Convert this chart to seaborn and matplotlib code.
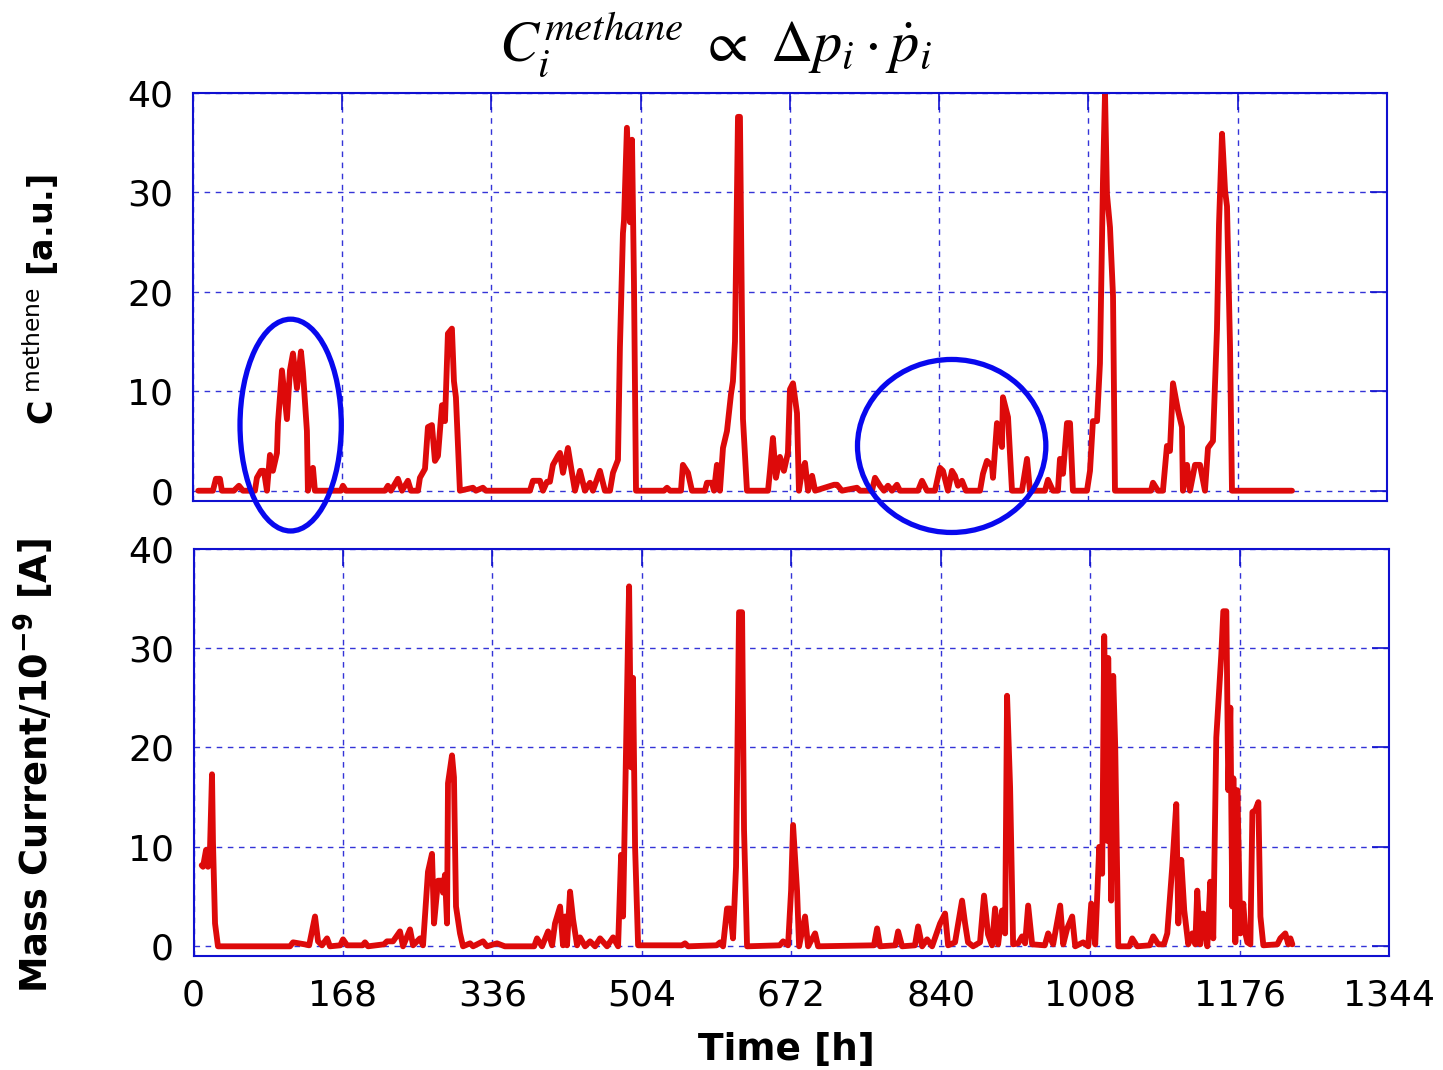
import numpy as np
import pandas as pd
import matplotlib
matplotlib.use("Agg")
import matplotlib.pyplot as plt
import seaborn as sns
from matplotlib.patches import Ellipse

# methane indicator (top panel)
top_hours = [6, 22.5, 25.9, 30.4, 32.6, 46.1, 51.8, 56.3, 69.8, 72,
             76.5, 79.9, 83.3, 86.7, 90, 94.6, 95.7, 100.2, 105.8, 109.2,
             112.6, 117.1, 121.6, 123.8, 128.3, 129.4, 135.1, 137.3, 166.6, 168.8,
             172.2, 216.1, 219.5, 222.9, 230.7, 235.3, 242, 245.4, 253.3, 255.5,
             261.2, 264.5, 269, 272.4, 275.8, 280.3, 283.7, 287, 291.5, 293.8,
             296, 300.5, 315.2, 318.5, 326.4, 329.8, 379.3, 382.7, 390.6, 394,
             398.5, 401.8, 405.2, 410.8, 413.1, 416.5, 422.1, 426.6, 430, 435.6,
             441.2, 446.9, 450.2, 458.1, 463.7, 469.4, 472.8, 478.4, 480.6, 484,
             485.2, 488.5, 491.9, 494.2, 496.4, 498.7, 530.2, 533.6, 537, 549.3,
             551.5, 557.2, 561.7, 576.3, 578.6, 584.2, 586.5, 589.8, 593.2, 596.6,
             601.1, 605.6, 607.8, 610.1, 613.5, 615.7, 619.1, 623.6, 647.3, 649.5,
             652.8, 656.2, 660.7, 665.2, 669.7, 672, 675.4, 679.9, 682.1, 685.5,
             688.9, 692.4, 696.9, 700.3, 721.7, 725, 730.5, 747.4, 750.8, 764.3,
             767.7, 773.3, 777.8, 782.3, 786.8, 792.4, 795.8, 816.1, 820.6, 826.2,
             835.2, 840.8, 844.2, 849.8, 854.3, 857.7, 861.1, 865.6, 870.1, 885.9,
             889.2, 893.7, 899.4, 900.5, 905, 910.6, 911.7, 917.4, 921.9, 933.1,
             938.8, 942.1, 959, 962.4, 968, 973.6, 975.9, 979.3, 983.8, 987.2,
             990.5, 1006.3, 1009.7, 1013, 1017.6, 1020.9, 1024.3, 1026.6, 1028.8, 1032.2,
             1035.6, 1037.8, 1078.3, 1080.6, 1086.2, 1091.8, 1096.3, 1099.7, 1103.1, 1108.7,
             1113.2, 1114.3, 1118.9, 1122.2, 1127.9, 1133.5, 1139.1, 1142.5, 1148.1, 1152.6,
             1154.9, 1158.3, 1161.7, 1163.9, 1167.3, 1169.5, 1237]
top_signal = [0, 0, 1.2, 1.2, 0, 0, 0.5, 0, 0, 1.3,
              2.0, 2.0, 0, 3.6, 2.0, 3.8, 6.8, 12.1, 7.2, 12.1,
              13.8, 10.3, 14, 12, 6, 0, 2.3, 0, 0, 0.5,
              0, 0, 0.5, 0, 1.2, 0, 1, 0, 0, 1.3,
              2.2, 6.4, 6.6, 3, 3.5, 8.6, 7, 15.8, 16.3, 11,
              9.4, 0, 0.3, 0, 0.3, 0, 0, 1, 1, 0,
              0.9, 0.9, 2.6, 3.5, 3.8, 1.8, 4.3, 1.8, 0, 2,
              0, 0.8, 0, 2, 0, 0, 1.8, 3.1, 14.4, 25.9,
              27.2, 36.5, 27, 35.3, 21, 0, 0, 0.3, 0, 0,
              2.6, 1.8, 0, 0, 0.8, 0.8, 0, 2.6, 0, 4.3,
              6, 9.7, 11, 15, 37.6, 37.6, 7.2, 0, 0, 2,
              5.3, 1.3, 3.4, 2, 3.8, 10.2, 10.8, 7.8, 0, 2,
              2.8, 0, 1.5, 0, 0.6, 0.6, 0, 0.3, 0, 0,
              1.3, 0.5, 0, 0.5, 0, 0.6, 0, 0, 1, 0,
              0, 2.3, 2.0, 0, 2, 1.5, 0.5, 1, 0, 0,
              1.7, 3, 2.5, 1.3, 6.8, 4.4, 9.4, 7.4, 0, 0,
              3.2, 0, 0, 1.1, 0, 0, 3.2, 1.7, 6.8, 6.8,
              0, 0, 2, 7, 7, 12.8, 31.2, 40, 29.8, 26.5,
              19.6, 0, 0, 0.8, 0, 0, 4.5, 4, 10.8, 8.1,
              6.4, 0, 2.6, 0, 2.6, 2.6, 0, 4.3, 5, 16.2,
              26.8, 35.9, 30.2, 28.6, 14.5, 0, 0]

# mass spectrometer current (bottom panel)
bottom_hours = [9.2, 10.7, 14.1, 16.3, 18.5, 20.8, 21.9, 24.2, 27.5, 108.5,
                111.9, 125, 130, 136.6, 140, 144.5, 150.1, 153.4, 165, 168.1,
                172.6, 190, 192.8, 196.2, 214, 217.5, 224.3, 232.1, 235.5, 243.4,
                246.8, 254.6, 258, 263.6, 268.1, 270.4, 274.9, 279.4, 280.5, 282.7,
                285, 286.1, 290.6, 292.8, 295.1, 299.6, 303, 310.9, 314.3, 325.5,
                330, 341.2, 350, 383, 386.2, 391.8, 398.6, 403.1, 406.4, 412.1,
                415.4, 417.7, 419.9, 423.3, 426.7, 431.2, 434.5, 440.2, 445.8, 451.4,
                457, 464.9, 471.7, 477.3, 480.7, 482.9, 486.3, 488.5, 489.7, 491.9,
                494.1, 496.4, 499.8, 549, 552.6, 556, 588, 592, 595.3, 599.8,
                603.2, 606.5, 609.9, 613.3, 616.7, 618.9, 622.3, 659, 662.8, 668.4,
                671.8, 674, 678.5, 680.8, 687.5, 690.9, 698.8, 702.1, 765, 768.5,
                771.8, 789, 792.1, 796.6, 811, 814.6, 819.1, 824.7, 830.3, 839.3,
                844.9, 848.3, 856.1, 864, 867.4, 870.7, 876.4, 884.2, 888.7, 893.2,
                897.7, 901.1, 904.5, 909, 912.4, 914.6, 918, 921.4, 927, 931.5,
                934.9, 938.3, 942.8, 957, 960.8, 966.4, 974.3, 977.7, 982.2, 987.8,
                991.2, 1000.2, 1005.8, 1009.2, 1013.7, 1018.2, 1021.5, 1023.8, 1027.2, 1028.3,
                1031.7, 1033.9, 1036.2, 1039.6, 1052, 1055.3, 1060.9, 1075, 1078.9, 1084.6,
                1091, 1094.7, 1100.3, 1104.8, 1107.1, 1110.4, 1113.8, 1118.3, 1122.8, 1126.2,
                1128.4, 1131.8, 1135.2, 1139.7, 1143.1, 1146.4, 1149.8, 1153.2, 1155.4, 1157.7,
                1161.1, 1163.3, 1165.6, 1167.8, 1169, 1171.2, 1173.5, 1176.9, 1180.2, 1182.5,
                1184.7, 1188.1, 1190.4, 1193.7, 1197.1, 1199.4, 1202.7, 1218.5, 1221.8, 1227.4,
                1230.8, 1233.1, 1235.3]
bottom_current = [8.15, 8, 9.7, 8, 9.7, 17.3, 10.4, 2.3, 0, 0,
                  0.4, 0.2, 0.1, 3.0, 0.5, 0.1, 0.8, 0, 0.1, 0.7,
                  0.1, 0.1, 0.4, 0, 0.2, 0.5, 0.5, 1.5, 0, 1.7,
                  0.1, 0.8, 0.1, 7.5, 9.3, 2.3, 6.6, 6.6, 5.4, 7.2,
                  2.3, 16.4, 19.2, 17, 4.0, 1.3, 0, 0.3, 0, 0.5,
                  0, 0.3, 0, 0, 0.8, 0, 1.5, 0.1, 2.3, 4,
                  0.1, 3, 0.1, 5.5, 2.7, 0.1, 0.9, 0, 0.5, 0,
                  0.8, 0, 0.9, 0, 9.2, 3.0, 20, 31, 36.2, 18,
                  27, 10, 0.1, 0.1, 0.3, 0, 0.1, 0.4, 0, 3.8,
                  3.8, 0.8, 8, 33.6, 33.6, 11.7, 0, 0.1, 0.5, 0.1,
                  5.6, 12.2, 5.6, 0, 3, 0, 1.3, 0, 0.1, 1.8,
                  0, 0.1, 1.5, 0, 0.1, 2, 0, 0.7, 0, 2.3,
                  3.3, 0.1, 0.4, 4.6, 2.3, 0.4, 0, 0.4, 5.1, 1.2,
                  0.1, 3.8, 0.2, 3.6, 1.3, 25.2, 16, 0.2, 0.3, 1,
                  0.3, 4.1, 0.2, 0.1, 1.3, 0.2, 4.1, 0.2, 1.8, 3,
                  0, 0.4, 0, 4.3, 0.2, 10, 7.3, 31.2, 10.6, 29,
                  4.6, 27.2, 20, 0, 0, 0.8, 0, 0.1, 1, 0.2,
                  0.2, 1.3, 8, 14.3, 2.3, 8.7, 3.6, 0.2, 1.3, 0.2,
                  5.6, 0.2, 3.3, 0, 6.5, 0.8, 21, 26, 29.3, 33.7,
                  33.7, 15.7, 24, 4, 16.9, 0.4, 15.7, 1.3, 4.3, 1.3,
                  0.4, 0.2, 13.5, 13.7, 14.5, 3, 0.1, 0.2, 0.8, 1.3,
                  0.2, 0.8, 0.2]

time_ticks = [0, 168, 336, 504, 672, 840, 1008, 1176, 1344]
value_ticks = [0, 10, 20, 30, 40]

# highlighted regions on the top panel: (centre hour, centre value, width h, height)
highlights = [(110, 6.6, 114, 21.3), (854, 4.5, 212, 17.4)]

assert len(top_hours) == len(top_signal)
assert len(bottom_hours) == len(bottom_current)

top_df = pd.DataFrame({"hours": top_hours, "signal": top_signal})
bottom_df = pd.DataFrame({"hours": bottom_hours, "current": bottom_current})

sns.set_style("white")
plt.rcParams["font.family"] = ["DejaVu Sans"]
plt.rcParams["text.color"] = "black"

RED = "#dd0a0a"
BLUE = "#1010d0"

fig = plt.figure(figsize=(14.43, 10.70), dpi=100)
ax_top = fig.add_axes([0.1337, 0.5321, 0.8275, 0.381])
ax_bot = fig.add_axes([0.1341, 0.1063, 0.8285, 0.381])

sns.lineplot(data=top_df, x="hours", y="signal", ax=ax_top, color=RED,
             linewidth=4.2, estimator=None, sort=False)
sns.lineplot(data=bottom_df, x="hours", y="current", ax=ax_bot, color=RED,
             linewidth=4.2, estimator=None, sort=False)

for ax in (ax_top, ax_bot):
    ax.set_xlim(0, 1344)
    ax.set_ylim(-1, 40)
    ax.set_xticks(time_ticks)
    ax.set_yticks(value_ticks)
    ax.grid(True, color=BLUE, linestyle=(0, (4, 4)), linewidth=1.0, alpha=0.85)
    for sp in ax.spines.values():
        sp.set_color(BLUE)
        sp.set_linewidth(1.5)
        sp.set_visible(True)
    ax.tick_params(direction="in", length=12, width=1.2, color=BLUE,
                   top=True, right=True, labelsize=26, pad=14,
                   labelcolor="black")
    ax.set_xlabel("")
    ax.set_ylabel("")

ax_top.tick_params(labelbottom=False)
ax_bot.tick_params(axis="x", pad=16)

for cx, cy, w, h in highlights:
    ax_top.add_patch(Ellipse((cx, cy), w, h, fill=False, edgecolor="#0808ee",
                             linewidth=3.8, clip_on=False, zorder=5))

fig.text(0.496, 0.958, r"$C_i^{methane}\ \propto\ \Delta p_i\cdot\dot{p}_i$",
         math_fontfamily="stix", fontsize=42, ha="center", va="center")
fig.text(0.028, 0.72, r"$\mathbf{C}^{\ \mathrm{methene}}$ [a.u.]", rotation=90,
         fontsize=24, fontweight="bold", ha="center", va="center")
fig.text(0.024, 0.285, r"Mass Current/10$^{\mathbf{-9}}$ [A]", rotation=90,
         fontsize=26.5, fontweight="bold", ha="center", va="center")
fig.text(0.545, 0.019, "Time [h]", fontsize=27, fontweight="bold",
         ha="center", va="center")

fig.savefig("out.png", dpi=100)
